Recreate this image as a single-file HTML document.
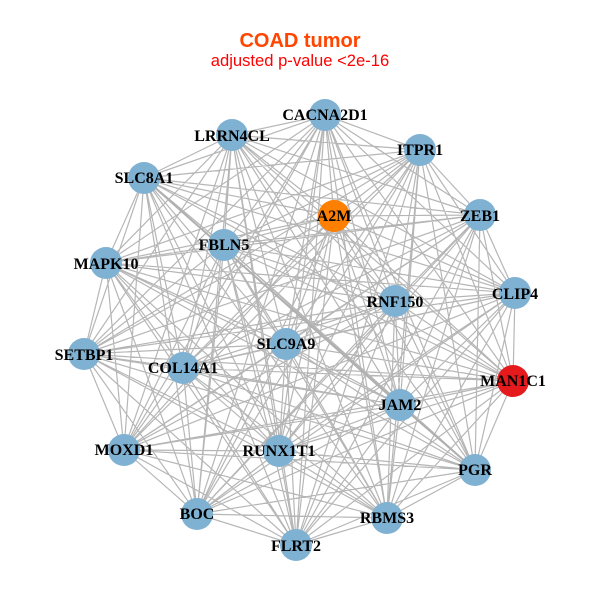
<!DOCTYPE html>
<html><head><meta charset="utf-8"><style>
html,body{margin:0;padding:0;background:#fff}
svg{display:block}
.n{font:bold 16px "Liberation Serif",serif;fill:#000;text-anchor:middle}
</style></head><body>
<svg width="600" height="600" viewBox="0 0 600 600" xmlns="http://www.w3.org/2000/svg">
<rect width="600" height="600" fill="#fff"/>
<path fill="none" stroke="#b6b6b6" stroke-width="1.2" d="
M325 115L232 135M325 115L420 150M325 115L144 178M325 115L334 216M325 115L480 215M325 115L224 245M325 115L106 263M325 115L515 293M325 115L395 301M325 115L286 344M325 115L84 354M325 115L183 368M325 115L513 381M325 115L400 405M325 115L279 451M325 115L124 450M325 115L475 470M325 115L197 514M325 115L387 518M325 115L296 545
M232 135L420 150M232 135L144 178M232 135L334 216M232 135L480 215M232 135L224 245M232 135L106 263M232 135L515 293M232 135L395 301M232 135L286 344M232 135L84 354M232 135L183 368M232 135L513 381M232 135L400 405M232 135L279 451M232 135L124 450M232 135L475 470M232 135L197 514M232 135L387 518M232 135L296 545
M420 150L144 178M420 150L334 216M420 150L480 215M420 150L224 245M420 150L106 263M420 150L515 293M420 150L395 301M420 150L286 344M420 150L84 354M420 150L183 368M420 150L513 381M420 150L400 405M420 150L279 451M420 150L124 450M420 150L475 470M420 150L197 514M420 150L387 518M420 150L296 545
M144 178L334 216M144 178L480 215M144 178L224 245M144 178L106 263M144 178L515 293M144 178L395 301M144 178L286 344M144 178L84 354M144 178L183 368M144 178L513 381M144 178L279 451M144 178L124 450M144 178L475 470M144 178L197 514M144 178L387 518M144 178L296 545
M334 216L480 215M334 216L224 245M334 216L106 263M334 216L515 293M334 216L395 301M334 216L286 344M334 216L84 354M334 216L183 368M334 216L513 381M334 216L400 405M334 216L279 451M334 216L124 450M334 216L475 470M334 216L197 514M334 216L387 518M334 216L296 545
M480 215L224 245M480 215L106 263M480 215L515 293M480 215L395 301M480 215L286 344M480 215L84 354M480 215L183 368M480 215L513 381M480 215L400 405M480 215L279 451M480 215L124 450M480 215L475 470M480 215L197 514M480 215L387 518M480 215L296 545
M224 245L106 263M224 245L515 293M224 245L395 301M224 245L286 344M224 245L84 354M224 245L183 368M224 245L513 381M224 245L400 405M224 245L279 451M224 245L124 450M224 245L475 470M224 245L197 514M224 245L387 518M224 245L296 545
M106 263L515 293M106 263L395 301M106 263L286 344M106 263L84 354M106 263L183 368M106 263L513 381M106 263L400 405M106 263L279 451M106 263L124 450M106 263L475 470M106 263L197 514M106 263L387 518M106 263L296 545
M515 293L395 301M515 293L286 344M515 293L84 354M515 293L183 368M515 293L513 381M515 293L400 405M515 293L279 451M515 293L124 450M515 293L475 470M515 293L197 514M515 293L387 518M515 293L296 545
M395 301L286 344M395 301L84 354M395 301L183 368M395 301L513 381M395 301L400 405M395 301L279 451M395 301L124 450M395 301L475 470M395 301L197 514M395 301L387 518M395 301L296 545
M286 344L84 354M286 344L183 368M286 344L513 381M286 344L400 405M286 344L279 451M286 344L124 450M286 344L475 470M286 344L197 514M286 344L387 518M286 344L296 545
M84 354L183 368M84 354L513 381M84 354L400 405M84 354L279 451M84 354L124 450M84 354L475 470M84 354L197 514M84 354L387 518M84 354L296 545
M183 368L513 381M183 368L400 405M183 368L279 451M183 368L124 450M183 368L475 470M183 368L197 514M183 368L387 518M183 368L296 545
M513 381L400 405M513 381L279 451M513 381L124 450M513 381L475 470M513 381L197 514M513 381L387 518M513 381L296 545
M400 405L279 451M400 405L124 450M400 405L197 514M400 405L387 518M400 405L296 545
M279 451L124 450M279 451L475 470M279 451L197 514M279 451L387 518M279 451L296 545
M124 450L475 470M124 450L197 514M124 450L387 518M124 450L296 545
M475 470L197 514M475 470L387 518M475 470L296 545
M197 514L387 518M197 514L296 545
M387 518L296 545"/>
<path fill="none" stroke="#b0b0b0" stroke-width="2" d="M144 178L400 405M400 405L475 470"/>
<g fill="#7fb1d3">
<circle cx="325" cy="115" r="16"/><circle cx="232" cy="135" r="16"/><circle cx="420" cy="150" r="16"/><circle cx="144" cy="178" r="16"/><circle cx="480" cy="215" r="16"/><circle cx="224" cy="245" r="16"/><circle cx="106" cy="263" r="16"/><circle cx="515" cy="293" r="16"/><circle cx="395" cy="301" r="16"/><circle cx="286" cy="344" r="16"/><circle cx="84" cy="354" r="16"/><circle cx="183" cy="368" r="16"/><circle cx="400" cy="405" r="16"/><circle cx="279" cy="451" r="16"/><circle cx="124" cy="450" r="16"/><circle cx="475" cy="470" r="16"/><circle cx="197" cy="514" r="16"/><circle cx="387" cy="518" r="16"/><circle cx="296" cy="545" r="16"/>
</g>
<circle cx="334" cy="216" r="16" fill="#ff7f00"/>
<circle cx="513" cy="381" r="16" fill="#e41a1c"/>
<text class="n" x="325" y="120">CACNA2D1</text>
<text class="n" x="232" y="141">LRRN4CL</text>
<text class="n" x="420" y="155">ITPR1</text>
<text class="n" x="144" y="183">SLC8A1</text>
<text class="n" x="334" y="221">A2M</text>
<text class="n" x="480" y="221">ZEB1</text>
<text class="n" x="224" y="250">FBLN5</text>
<text class="n" x="106" y="269">MAPK10</text>
<text class="n" x="515" y="299">CLIP4</text>
<text class="n" x="395" y="307">RNF150</text>
<text class="n" x="286" y="349">SLC9A9</text>
<text class="n" x="84" y="360">SETBP1</text>
<text class="n" x="183" y="373">COL14A1</text>
<text class="n" x="513" y="386">MAN1C1</text>
<text class="n" x="400" y="410">JAM2</text>
<text class="n" x="279" y="456">RUNX1T1</text>
<text class="n" x="124" y="455">MOXD1</text>
<text class="n" x="475" y="475">PGR</text>
<text class="n" x="197" y="519">BOC</text>
<text class="n" x="387" y="523">RBMS3</text>
<text class="n" x="296" y="551">FLRT2</text>
<text x="300" y="47" text-anchor="middle" font-family="'Liberation Sans',sans-serif" font-weight="bold" font-size="20" fill="#ff4500">COAD tumor</text>
<text x="300" y="66" text-anchor="middle" font-family="'Liberation Sans',sans-serif" font-size="16.6" fill="#ff0000">adjusted p-value &lt;2e-16</text>
</svg>
</body></html>
